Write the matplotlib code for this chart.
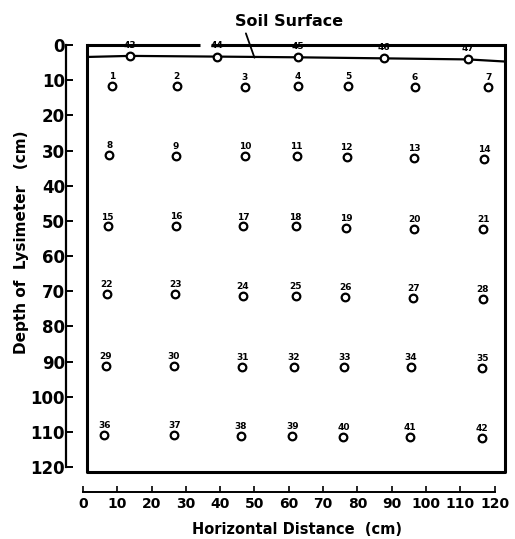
import matplotlib
matplotlib.use('Agg')
import matplotlib.pyplot as plt
import numpy as np

# suction cup positions (horizontal distance, depth) in cm
port_num = list(range(1, 43))
port_x = [8.4, 27.3, 47.2, 62.6, 77.3, 96.8, 118.2,
          7.7, 27.1, 47.2, 62.3, 76.9, 96.5, 116.9,
          7.2, 27.1, 46.7, 62.0, 76.7, 96.5, 116.7,
          6.9, 26.9, 46.6, 62.0, 76.4, 96.3, 116.5,
          6.6, 26.5, 46.5, 61.5, 76.2, 95.6, 116.4,
          6.2, 26.6, 46.1, 61.0, 75.9, 95.3, 116.4]
port_depth = [11.7, 11.7, 11.9, 11.7, 11.7, 12.0, 12.0,
              31.3, 31.6, 31.6, 31.6, 31.9, 32.2, 32.5,
              51.6, 51.5, 51.6, 51.6, 51.9, 52.3, 52.3,
              70.8, 70.8, 71.3, 71.3, 71.6, 71.8, 72.2,
              91.3, 91.3, 91.5, 91.5, 91.5, 91.5, 91.8,
              110.9, 110.9, 111.1, 111.1, 111.4, 111.4, 111.7]

# points on the soil surface
surf_num = [43, 44, 45, 46, 47]
surf_x = [13.7, 39.1, 62.6, 87.8, 112.3]
surf_depth = [3.1, 3.3, 3.5, 3.8, 4.1]
# surface line meets the box walls here
surf_line_x = [1.3] + surf_x + [123.0]
surf_line_depth = [3.4] + surf_depth + [4.7]

ticks = np.arange(0, 121, 10)

fig = plt.figure(figsize=(5.15, 5.39), dpi=100)
ax = fig.add_axes([0.1291, 0.0878, 0.8646, 0.8483])
ax.set_xlim(-4.8, 125)
ax.set_ylim(127, -3)

# lysimeter box (top edge has a small break in the print)
lw_box = 2.2
ax.plot([1.3, 34.1], [0, 0], color='k', lw=lw_box, solid_capstyle='butt')
ax.plot([37.3, 123.0], [0, 0], color='k', lw=lw_box, solid_capstyle='butt')
ax.plot([1.3, 1.3, 123.0, 123.0], [0, 121.5, 121.5, 0], color='k', lw=lw_box)

# soil surface
ax.plot(surf_line_x, surf_line_depth, color='k', lw=1.6)
ax.plot(surf_x, surf_depth, 'o', ms=5.5, mfc='white', mec='k', mew=1.6)
for n, x, d in zip(surf_num, surf_x, surf_depth):
    ax.annotate(str(n), (x, d), xytext=(0, 4.5), textcoords='offset points',
                ha='center', va='bottom', fontsize=6.5, fontweight='bold')

ax.plot(port_x, port_depth, 'o', ms=5.5, mfc='white', mec='k', mew=1.6)
for n, x, d in zip(port_num, port_x, port_depth):
    ax.annotate(str(n), (x, d), xytext=(0, 3.5), textcoords='offset points',
                ha='center', va='bottom', fontsize=6.5, fontweight='bold')

ax.annotate('Soil Surface', xy=(50, 3.6), xytext=(60, -6.6), ha='center', va='center',
            fontsize=11.5, fontweight='bold', annotation_clip=False,
            arrowprops=dict(arrowstyle='-', color='k', lw=1.3, relpos=(0.09, 0.0),
                            shrinkA=1, shrinkB=0))

for s in ['top', 'right']:
    ax.spines[s].set_visible(False)
ax.spines['left'].set_bounds(0, 120)
ax.spines['bottom'].set_bounds(0, 120)
ax.spines['left'].set_linewidth(1.6)
ax.spines['bottom'].set_linewidth(1.4)

ax.set_yticks(ticks)
ax.set_xticks(ticks)
ax.tick_params(axis='y', direction='in', length=5, width=1.4, pad=1, labelsize=12)
ax.tick_params(axis='x', direction='in', length=4, width=1.2, pad=4, labelsize=10)
for lab in ax.get_yticklabels() + ax.get_xticklabels():
    lab.set_fontweight('bold')

fig.text(22 / 515, 1 - 242 / 539, 'Depth of  Lysimeter   (cm)', rotation=90,
         ha='center', va='center', fontsize=11, fontweight='bold')
fig.text(297 / 515, 1 - 529 / 539, 'Horizontal Distance  (cm)',
         ha='center', va='center', fontsize=10.5, fontweight='bold')

fig.savefig('out.png', dpi=100)
